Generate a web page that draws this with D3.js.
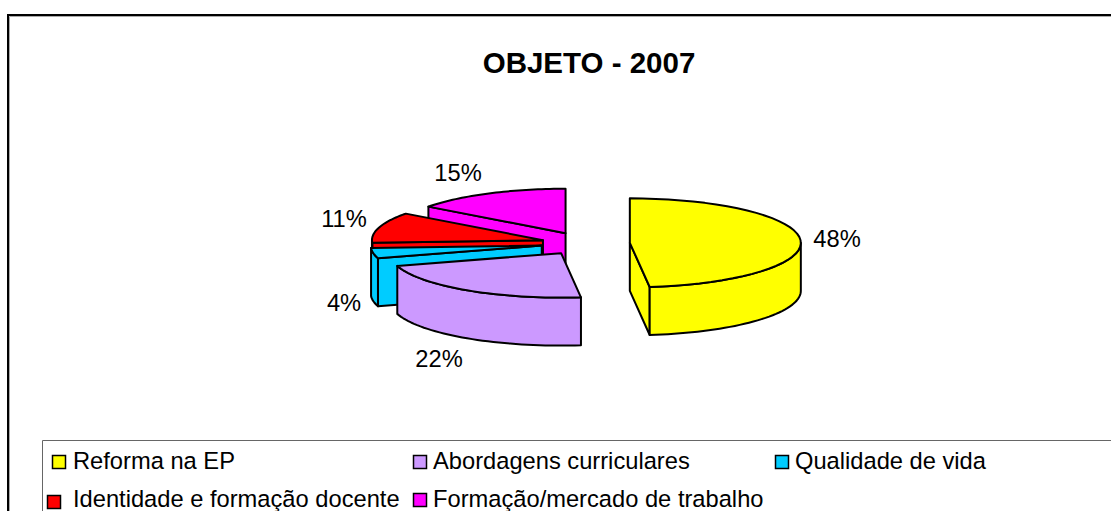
<!DOCTYPE html>
<html><head><meta charset="utf-8">
<script src="https://cdn.jsdelivr.net/npm/d3@7"></script>
<style>html,body{margin:0;padding:0;background:#fff;overflow:hidden}svg{display:block}text{font-family:"Liberation Sans",Arial,sans-serif;fill:#000}</style>
</head><body><svg id="c" width="1111" height="511"></svg>
<script>
const categories = ["Reforma na EP","Abordagens curriculares","Qualidade de vida","Identidade e formação docente","Formação/mercado de trabalho"];
const values = [13,6,1,3,4];
const colors = ["#ffff00","#cc99ff","#00ccff","#ff0000","#ff00ff"];
const titleText = "OBJETO - 2007";

const svg = d3.select("#c");
const W=1111,H=511;
const cx=585.5, cy=243.5, rx=171, tilt=0.26, ry=rx*tilt, depth=48, explode=44.4;
const deg=Math.PI/180;
const pct=d3.format(".0%"), total=d3.sum(values);

// frame
svg.append("path").attr("d",`M${W+2},15H8V${H+2}`).attr("fill","none").attr("stroke","#000").attr("stroke-width",2);
svg.append("path").attr("d",`M${W+2},16.5H9.5V${H+2}`).attr("fill","none").attr("stroke","#aaa").attr("stroke-width",1);

svg.append("text").attr("x",589).attr("y",73).attr("text-anchor","middle")
  .attr("font-size",29.5).attr("font-weight","bold").text(titleText);

const arcs=d3.pie().sort(null).startAngle(0).endAngle(2*Math.PI)(values);
const line=d3.line();
function geom(a){
  const mid=(a.startAngle+a.endAngle)/2;
  const ax=cx+explode*Math.sin(mid), ay=cy-explode*tilt*Math.cos(mid);
  const pt=(t,dz=0)=>[ax+rx*Math.sin(t), ay-ry*Math.cos(t)+dz];
  const rim=(t0,t1,dz=0)=>d3.range(0,41).map(i=>pt(t0+(t1-t0)*i/40,dz));
  return {ax,ay,pt,rim};
}
const order=[4,3,2,1,0];
const g=svg.append("g").attr("stroke","#000").attr("stroke-width",2).attr("stroke-linejoin","round");
order.forEach(i=>{
  const a=arcs[i], s=geom(a), f=colors[i];
  const wall=t=>{
    const p=s.pt(t);
    g.append("path").attr("fill",f).attr("d",line([[s.ax,s.ay],p,[p[0],p[1]+depth],[s.ax,s.ay+depth]])+"Z");
  };
  if(Math.sin(a.startAngle)<-1e-6) wall(a.startAngle);
  if(Math.sin(a.endAngle)>1e-6) wall(a.endAngle);
  const w0=Math.max(a.startAngle,90*deg), w1=Math.min(a.endAngle,270*deg);
  if(w1>w0){
    g.append("path").attr("fill",f).attr("d",line([...s.rim(w0,w1),...s.rim(w1,w0,depth)])+"Z");
  }
  g.append("path").attr("fill",f).attr("d",line([[s.ax,s.ay],...s.rim(a.startAngle,a.endAngle)])+"Z");
});

// value labels, placed outside each slice's rim
const labelAnchors=[[837,247],[439,367],[344,311],[344,227],[458,181]];
values.forEach((v,i)=>svg.append("text").attr("x",labelAnchors[i][0]).attr("y",labelAnchors[i][1])
  .attr("text-anchor","middle").attr("font-size",23.7).text(pct(v/total)));

// legend
svg.append("path").attr("d",`M${W+2},440.5H42.5V${H+2}`).attr("fill","none").attr("stroke","#666").attr("stroke-width",1);
const legendPos=[
 {sx:52,sy:455,sw:14,sh:14,tx:73,ty:469},
 {sx:413,sy:455,sw:14,sh:14,tx:433,ty:469},
 {sx:775,sy:455,sw:14,sh:14,tx:795,ty:469},
 {sx:47,sy:495,sw:14,sh:14,tx:73,ty:507},
 {sx:413,sy:493,sw:14,sh:14,tx:433,ty:507}];
categories.forEach((c,i)=>{
  const p=legendPos[i];
  svg.append("rect").attr("x",p.sx+.5).attr("y",p.sy+.5).attr("width",p.sw-1).attr("height",p.sh-1)
    .attr("fill",colors[i]).attr("stroke","#000").attr("stroke-width",1.5);
  svg.append("text").attr("x",p.tx).attr("y",p.ty).attr("font-size",23.7).text(c);
});
</script></body></html>
